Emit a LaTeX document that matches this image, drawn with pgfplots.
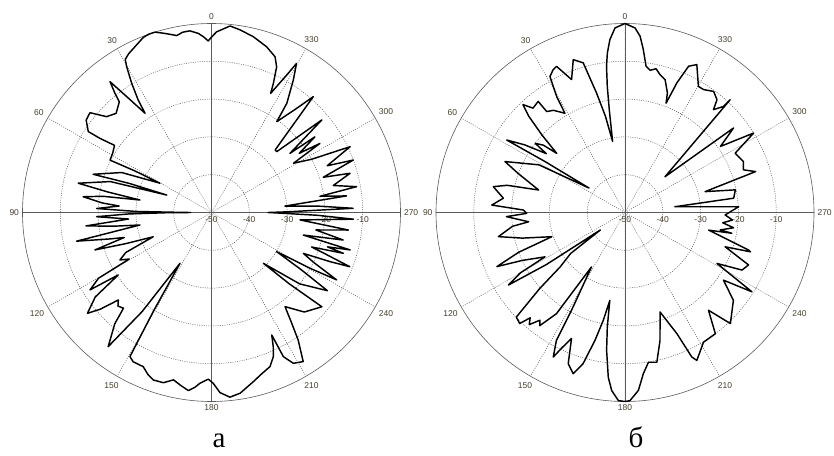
\documentclass[border=0pt]{standalone}
\usepackage{fontspec}
\setmainfont{Liberation Serif}
\newfontfamily\tickfont{Liberation Sans}
\usepackage{pgfplots}
\usepackage{pgfplotstable}
\usepgfplotslibrary{polar}
\pgfplotsset{compat=1.18}
\definecolor{gridc}{RGB}{90,90,90}
\definecolor{tickc}{RGB}{70,62,45}

\pgfplotstableread{
t db
0 -3.6
1.1 -4.6
2.7 -3.4
4.2 -2.5
6.8 -1.6
9.1 -1.7
11.1 -2.3
13.1 -1.6
15 -0.9
17.4 0
19.4 0
21.3 -0.3
24.8 -1.7
27.5 -2.6
29.4 -3.5
30.2 -5.4
31.7 -9.8
33.1 -14.5
33.8 -18.4
36.2 -12.0
37.8 -6.2
39.0 -9.4
39.8 -11.9
43.9 -13.6
47.6 -12.4
50.6 -8.4
53.6 -8.8
56.7 -11.0
56.4 -14.6
55.3 -18.8
59.0 -19.5
62.7 -19.8
61.5 -27
60.4 -34.3
66.0 -24
72.1 -17.1
70.5 -27
68.7 -37.3
73.0 -22
77.6 -13.9
78.8 -22
80.1 -30.8
81.5 -21
83.0 -15.8
85.0 -21
86.0 -25.5
88.0 -19.6
89.2 -30
89.8 -42
90.0 -44.5
90.3 -38
91.0 -28
92.1 -19.6
94.5 -28
96.1 -16.6
98.0 -24
99.9 -30.8
102.0 -13.5
104.5 -22
106.0 -26
107.8 -17.6
110 -26
112.6 -33.3
115 -25
117.4 -22.7
119.5 -25
120.2 -15.4
122.5 -11.9
123.8 -20.3
126.0 -12
129.1 -7.7
131.0 -11
133.2 -16.2
135.0 -15
137.4 -15.6
139.0 -11
142.4 -5.2
145.0 -18
148.2 -34.2
149.5 -20
150.5 -6.2
152.3 -5.4
156.1 -5.4
158.5 -4
160.8 -3.1
164.2 -3.2
167.2 -4.6
170 -3.5
172.6 -2.5
174.5 -3.5
176.1 -4.7
178.9 -5.9
180.6 -4.8
182.7 -2.3
185.7 -0.9
189 -1.6
193.9 -3.9
197 -5.2
200.8 -6.4
203.2 -8.5
204.7 -10.9
206.2 -13.9
206.5 -7.4
208.5 -4.6
211.6 -3.7
214.2 -9.2
216 -14
218 -18.4
223 -14
229.5 -11.6
227.5 -22
225.6 -30.8
231 -20
236 -13
237.5 -22
239 -29.9
240.5 -20
241.7 -12.4
244 -20
246 -23.4
247.5 -16
248.6 -10.7
250 -18
251 -22
252.8 -13.5
253.5 -18
254.9 -12
256.2 -25
258.2 -14.4
260.5 -22
262.7 -13.5
265.2 -26.5
267.3 -12.4
268.5 -22
269.5 -32
270 -35
270.5 -30
271.7 -12.5
273.5 -22
275 -30.5
277 -14
278.5 -21
280.1 -11
282.5 -17
285.8 -11.9
287.5 -19
290.3 -10
292 -17
295.4 -9.4
298 -20
301 -24.7
302.5 -16
304 -22
306.2 -16.1
307 -24
310 -11.9
313 -26.4
314.5 -26.4
318.7 -9.2
321 -15
324.3 -20.4
325.4 -14.9
328.3 -8.8
330.3 -4.6
331.3 -8.5
333.6 -14.8
334.4 -12.1
335.9 -7.8
337.8 -5.5
341.6 -3.8
346.6 -2.2
351.1 -1.1
354.3 -0.4
358.4 -2.2
360 -3.6
}\dataA

\pgfplotstableread{
t db
0 0
3.1 -1.1
5.0 -4.1
6.3 -7.5
7.2 -11
8.0 -16.3
8.7 -22.5
9.9 -30.9
11.5 -24
13.4 -17.5
15.6 -8.9
18.7 -7.3
21.9 -12.1
25.1 -7.3
26.7 -7.7
28.9 -8.9
30.5 -14.4
31.2 -19.3
35 -17
37.8 -16.2
38 -12.7
41.4 -13.2
43.4 -10.7
45 -14
47 -20
49.1 -26.1
50.5 -22
52.4 -20
53.2 -24
56 -18
58.5 -13.3
57.5 -25
55.8 -38.5
61 -24
67 -15.5
70 -20
75.4 -26.4
77 -18
78.9 -14.5
83.3 -17.6
86.8 -14.7
88.6 -23.1
90.5 -24
92 -18.6
95.5 -24.4
97 -20
100.8 -15.9
104 -22
108.3 -29.6
110.5 -20
112.9 -13.2
115 -20
119 -25.8
120 -18
121.9 -13.7
123.5 -25
125.3 -42
127 -32
130 -27.6
131.7 -19.8
133.9 -10.1
136.5 -9.5
138 -12.5
139.5 -11
141.7 -13.7
143 -12.5
145.9 -17.7
146.3 -22.1
148.4 -33.1
151.2 -21.5
151.8 -11.6
153.6 -7.3
155 -10.5
157 -13.8
159.4 -7.3
162.2 -5.2
164.5 -8.5
166.8 -15.3
168.6 -20.9
170.2 -26.4
171.2 -19.4
172.4 -13.2
174.2 -6.2
175.7 -2.8
178 -0.2
180 0
181.5 -0.2
184.3 -2.8
186.5 -7.1
188.9 -9.9
192 -9.5
195.3 -14.9
199.4 -22.1
203.2 -15.1
204.8 -7.9
205.9 -6.5
211.2 -9.9
216.7 -10
220.5 -16
223.5 -9.5
231 -13.1
235.5 -18.4
238 -10.4
241 -22.2
243.8 -15.5
247 -14.5
251.1 -22
252.6 -15.2
253.1 -15.8
258.1 -27.4
259 -21.2
259.6 -24.4
262 -21
264 -24
266 -21.5
268.6 -23.5
272.9 -19.9
276.6 -36.7
277.5 -21
281.6 -20.2
284.6 -28.1
287.4 -13.8
289.8 -16.7
293.2 -15.9
298.3 -16.9
301.7 -10
304.7 -19.3
307.9 -13.6
311.8 -35.8
317 -9.2
317.1 -11.7
319.3 -14.1
320.8 -11.5
323.8 -10.3
327.4 -11.4
329.8 -11.4
334.1 -6.5
336.5 -7.8
338.2 -13.1
339.4 -19.1
340.5 -16.4
343.2 -13.3
345.7 -12.4
347.8 -11.1
350 -11.8
351.8 -10.9
353.6 -6.6
355.1 -3.2
356.9 -1.1
360 0
}\dataB

\pgfplotsset{
  mypolar/.style={
    scale only axis, width=378pt, height=378pt,
    xmin=0, xmax=360, ymin=0, ymax=50,
    xtick={0,30,...,330},
    xticklabels={270,300,330,0,30,60,90,120,150,180,210,240},
    ytick={0,10,20,30,40},
    yticklabels={-50,-40,-30,-20,-10},
    grid=major,
    major grid style={gridc, line width=0.5pt, dash pattern=on 1pt off 1.3pt},
    axis line style={gridc, line width=0.6pt},
    tick style={draw=none},
    ticklabel style={font=\tickfont\fontsize{8.5}{9}\selectfont, text=tickc},
    yticklabel style={anchor=north, yshift=-1pt},
    extra x ticks={0,90,180,270},
    extra x tick labels={},
    extra x tick style={grid=major, major grid style={gridc, solid, line width=0.6pt}},
    clip=false,
  },
  curve/.style={black, line width=1.45pt, no markers, line join=round},
}

\begin{document}
\begin{tikzpicture}
\path[use as bounding box] (0,0) rectangle (834pt,455pt);
\begin{polaraxis}[mypolar, at={(211.5pt,242.5pt)}, anchor=center]
\addplot[curve] table[x expr=\thisrow{t}+90, y expr=\thisrow{db}+50]{\dataA};
\end{polaraxis}
\begin{polaraxis}[mypolar, at={(625pt,242.5pt)}, anchor=center]
\addplot[curve] table[x expr=\thisrow{t}+90, y expr=\thisrow{db}+50]{\dataB};
\end{polaraxis}
\node[font=\fontsize{29}{29}\selectfont, anchor=base, inner sep=0pt] at (219pt,8pt) {а};
\node[font=\fontsize{29}{29}\selectfont, anchor=base, inner sep=0pt] at (636pt,8pt) {б};
\end{tikzpicture}
\end{document}
